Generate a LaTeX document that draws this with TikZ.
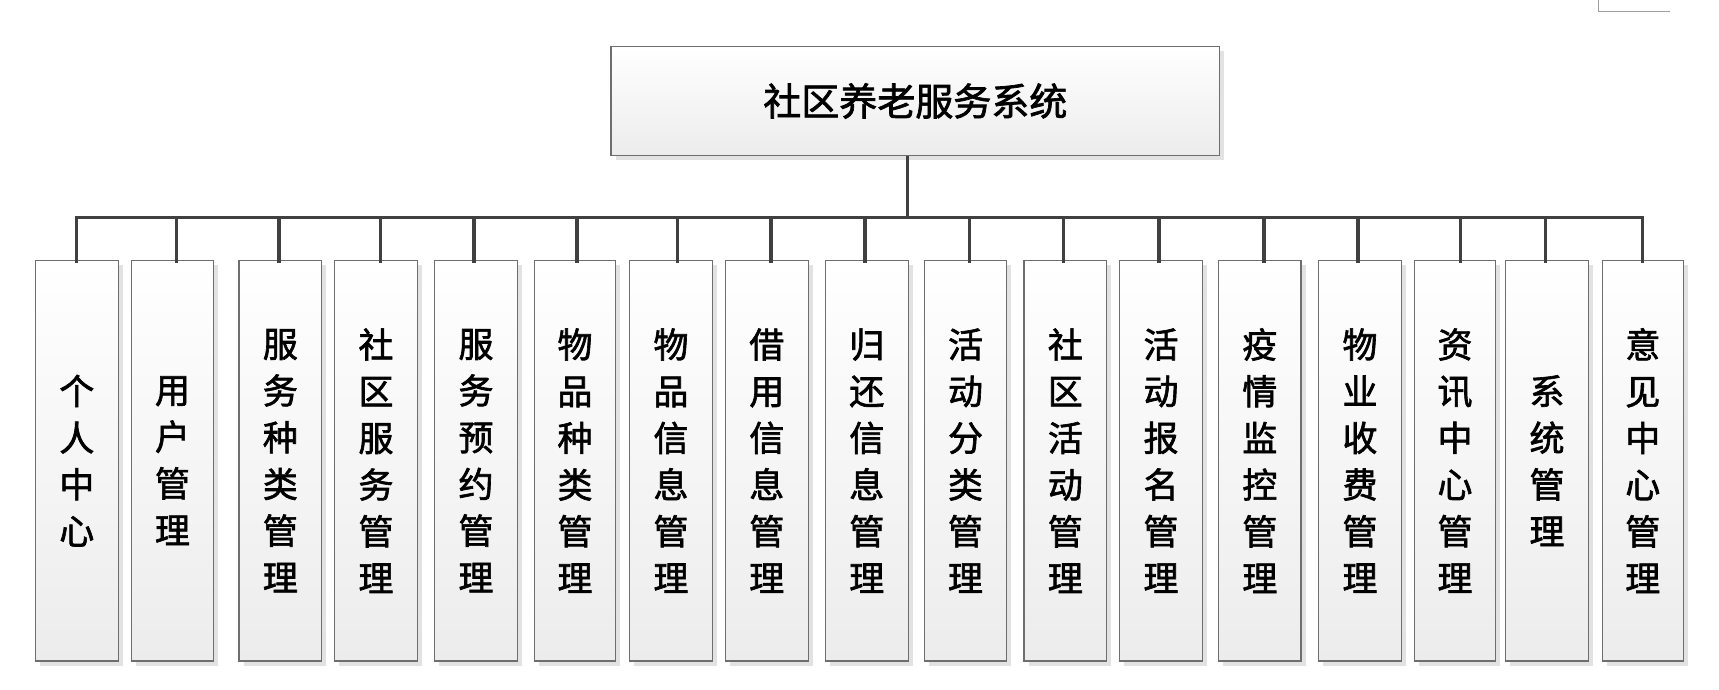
\documentclass[tikz,border=0pt]{standalone}
\usepackage{fontspec}
\newfontfamily\cjk{Noto Sans CJK SC}[FakeBold=1.8]
\usetikzlibrary{shadows}
\definecolor{linegray}{HTML}{404040}
\definecolor{boxborder}{HTML}{6E6E6E}
\definecolor{shadowgray}{HTML}{E2E2E2}
\definecolor{boxbottom}{HTML}{ECECEC}
\tikzset{
  box/.style={draw=boxborder, line width=1.3pt, top color=white, bottom color=boxbottom,
    drop shadow={shadow xshift=4.5pt, shadow yshift=-4.5pt, fill=shadowgray, opacity=1},
    inner sep=0pt, outer sep=0pt, align=center},
  topbox/.style={box, font=\cjk\fontsize{38}{46}\selectfont},
  subbox/.style={box, font=\cjk\fontsize{35}{46.7}\selectfont},
  conn/.style={draw=linegray, line width=3.2pt},
}
\begin{document}
\begin{tikzpicture}[x=1pt,y=-1pt]
\useasboundingbox (0,0) rectangle (1719,689);
% top-right fragment
\draw[color=black!38, line width=1.3pt] (1598.7,0) -- (1598.7,11.3) -- (1669.7,11.3);
% top node
\node[topbox, minimum width=608.7pt, minimum height=109.4pt] (top) at (915.35,101) {社区养老服务系统};
% sub nodes
\foreach \i/\l/\r/\t in {
  1/35.3/118.3/{个\\人\\中\\心},
  2/131.3/213.7/{用\\户\\管\\理},
  3/239/321.7/{服\\务\\种\\类\\管\\理},
  4/334.7/417.3/{社\\区\\服\\务\\管\\理},
  5/434.7/517.3/{服\\务\\预\\约\\管\\理},
  6/534.7/615.3/{物\\品\\种\\类\\管\\理},
  7/629.7/712.3/{物\\品\\信\\息\\管\\理},
  8/725.3/808.3/{借\\用\\信\\息\\管\\理},
  9/825.3/908.3/{归\\还\\信\\息\\管\\理},
  10/924.3/1006.7/{活\\动\\分\\类\\管\\理},
  11/1024/1106.7/{社\\区\\活\\动\\管\\理},
  12/1119.3/1202.7/{活\\动\\报\\名\\管\\理},
  13/1218.7/1301/{疫\\情\\监\\控\\管\\理},
  14/1318.7/1401.3/{物\\业\\收\\费\\管\\理},
  15/1414.7/1495.3/{资\\讯\\中\\心\\管\\理},
  16/1505.7/1588.3/{系\\统\\管\\理},
  17/1602.3/1683.3/{意\\见\\中\\心\\管\\理}}{
  \node[subbox, minimum width={(\r-\l)*1pt}, minimum height=400.7pt] (b\i) at ({(\l+\r)/2},460.65) {\t};
}
% junction coordinates on the bus
\foreach \i/\x in {1/76.7,2/176.7,3/279,4/380.3,5/474,6/577,7/677.3,8/771,9/865,10/969.7,
  11/1063.5,12/1159,13/1264,14/1358,15/1460.7,16/1545.3,17/1642.7}{
  \coordinate (j\i) at (\x,217.5);
}
\coordinate (jt) at (907.3,217.5);
% connectors
\draw[conn] (jt |- top.south) -- (jt);
\draw[conn, line cap=rect] (j1) -- (j17);
\foreach \i in {1,...,17}{
  \draw[conn, shorten >=-3pt] (j\i) -- (j\i |- b\i.north);
}
\end{tikzpicture}
\end{document}
